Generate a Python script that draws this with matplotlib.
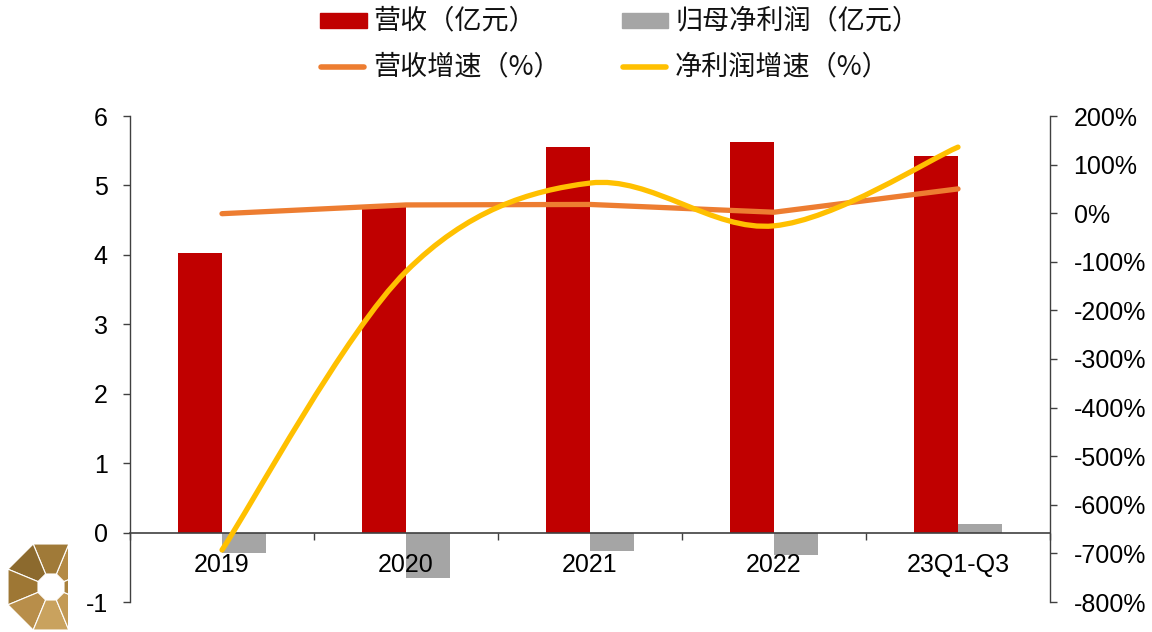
import numpy as np
import matplotlib
matplotlib.use("Agg")
import matplotlib.pyplot as plt
from matplotlib.path import Path
from matplotlib.patches import PathPatch, Rectangle, Polygon
from matplotlib.lines import Line2D

# ---- data ----
categories = ["2019", "2020", "2021", "2022", "23Q1-Q3"]
revenue = [4.02, 4.70, 5.56, 5.62, 5.42]            # 营收（亿元）
net_profit = [-0.29, -0.65, -0.26, -0.33, 0.13]     # 归母净利润（亿元）
revenue_growth = [-1, 17, 18, 2, 50]                # 营收增速（%）
profit_growth = [-693, -120, 62, -26, 136]          # 净利润增速（%）

left_ticks = [-1, 0, 1, 2, 3, 4, 5, 6]
right_ticks = [-800, -700, -600, -500, -400, -300, -200, -100, 0, 100, 200]

RED = "#C00000"
GRAY = "#A5A5A5"
ORANGE = "#ED7D31"
YELLOW = "#FFC000"

plt.rcParams["font.family"] = ["Liberation Sans", "DejaVu Sans"]
CJK = ["Noto Sans CJK SC", "DejaVu Sans"]

W, H = 1152, 632
fig = plt.figure(figsize=(W / 100, H / 100), dpi=100)
fig.patch.set_facecolor("white")

x0, x1, y0, y1 = 130, 1050, 116, 602
ax = fig.add_axes([x0 / W, 1 - y1 / H, (x1 - x0) / W, (y1 - y0) / H])
ax2 = ax.twinx()

n = len(categories)
x = np.arange(n)
bw = 0.24

ax.bar(x - bw / 2, revenue, width=bw, color=RED, zorder=2)
ax.bar(x + bw / 2, net_profit, width=bw, color=GRAY, zorder=2)
ax.set_axisbelow(False)

ax.set_xlim(-0.5, n - 0.5)
ax.set_ylim(-1, 6)
ax.set_yticks(left_ticks)
ax.set_yticklabels([str(t) for t in left_ticks], fontsize=18)

for side in ("top", "right"):
    ax.spines[side].set_visible(False)
ax.spines["bottom"].set_position(("data", 0))
ax.spines["bottom"].set_color("#404040")
ax.spines["bottom"].set_linewidth(1.2)
ax.spines["left"].set_color("#404040")
ax.spines["left"].set_linewidth(1.0)
ax.tick_params(axis="y", direction="out", length=5, width=1.0, color="#404040", pad=11)

# category labels under the zero line, boundary tick marks
ax.set_xticks(x)
ax.set_xticklabels(categories, fontsize=18)
ax.tick_params(axis="x", which="major", length=0, pad=15)
ax.set_xticks(np.arange(-0.5, n), minor=True)
ax.tick_params(axis="x", which="minor", direction="out", length=5, width=1.0, color="#404040")

# right axis: growth rates
ax2.set_ylim(-800, 200)
ax2.set_yticks(right_ticks)
ax2.set_yticklabels([f"{t}%" for t in right_ticks], fontsize=18)
for side in ("top", "left", "bottom"):
    ax2.spines[side].set_visible(False)
ax2.spines["right"].set_color("#404040")
ax2.spines["right"].set_linewidth(1.0)
ax2.tick_params(axis="y", direction="out", length=5, width=1.0, color="#404040", pad=12)

ax2.plot(x, revenue_growth, color=ORANGE, lw=3.8, solid_capstyle="round",
         solid_joinstyle="round", zorder=3)


def smooth_path(xs, ys, k=1 / 6):
    """Cubic Bezier spline through the points (Catmull-Rom style)."""
    pts = np.column_stack([xs, ys]).astype(float)
    ext = np.vstack([pts[0], pts, pts[-1]])
    verts = [tuple(pts[0])]
    codes = [Path.MOVETO]
    for i in range(len(pts) - 1):
        p_prev, p0, p1, p_next = ext[i], ext[i + 1], ext[i + 2], ext[i + 3]
        c1 = p0 + (p1 - p_prev) * k
        c2 = p1 - (p_next - p0) * k
        verts += [tuple(c1), tuple(c2), tuple(p1)]
        codes += [Path.CURVE4] * 3
    return Path(verts, codes)


curve = PathPatch(smooth_path(x, profit_growth), facecolor="none", edgecolor=YELLOW,
                  lw=3.8, capstyle="round", joinstyle="round", zorder=4)
ax2.add_patch(curve)

# ---- legend ----
lg = fig.add_axes([0, 0, 1, 1], zorder=5)
lg.set_xlim(0, W)
lg.set_ylim(H, 0)
lg.axis("off")
lg.add_patch(Rectangle((320, 13), 47, 15, color=RED))
lg.add_patch(Rectangle((622, 13), 46, 15, color=GRAY))
lg.add_line(Line2D([321, 364], [67, 67], color=ORANGE, lw=4, solid_capstyle="round"))
lg.add_line(Line2D([623, 666], [67, 67], color=YELLOW, lw=4, solid_capstyle="round"))
legend_labels = [("营收（亿元）", 373, 21), ("归母净利润（亿元）", 675, 21),
                 ("营收增速（%）", 373, 67), ("净利润增速（%）", 675, 67)]
for txt, tx, ty in legend_labels:
    lg.text(tx, ty, txt, fontsize=19.5, family=CJK, va="center", ha="left", color="#111111")

# ---- corner emblem ----
em = fig.add_axes([0, 0, 68 / W, 92 / H], zorder=1)
em.set_xlim(0, 68)
em.set_ylim(H, H - 92)
em.axis("off")
cx, cy = 51, 587
ang = np.deg2rad(22.5 + 45 * np.arange(8))
R_out = 43 / np.cos(np.pi / 8)
R_in = 13 / np.cos(np.pi / 8)
golds = ["#B48A45", "#A07A38", "#8C6A2E", "#9E7734", "#B88E4A", "#C9A25E", "#C39A55", "#A9813D"]
for i in range(8):
    a, b = ang[i], ang[(i + 1) % 8]
    quad = [(cx + R_in * np.cos(a), cy - R_in * np.sin(a)),
            (cx + R_out * np.cos(a), cy - R_out * np.sin(a)),
            (cx + R_out * np.cos(b), cy - R_out * np.sin(b)),
            (cx + R_in * np.cos(b), cy - R_in * np.sin(b))]
    em.add_patch(Polygon(quad, closed=True, facecolor=golds[i], edgecolor="white", lw=0.8))

fig.savefig("out.png", dpi=100, facecolor="white")
